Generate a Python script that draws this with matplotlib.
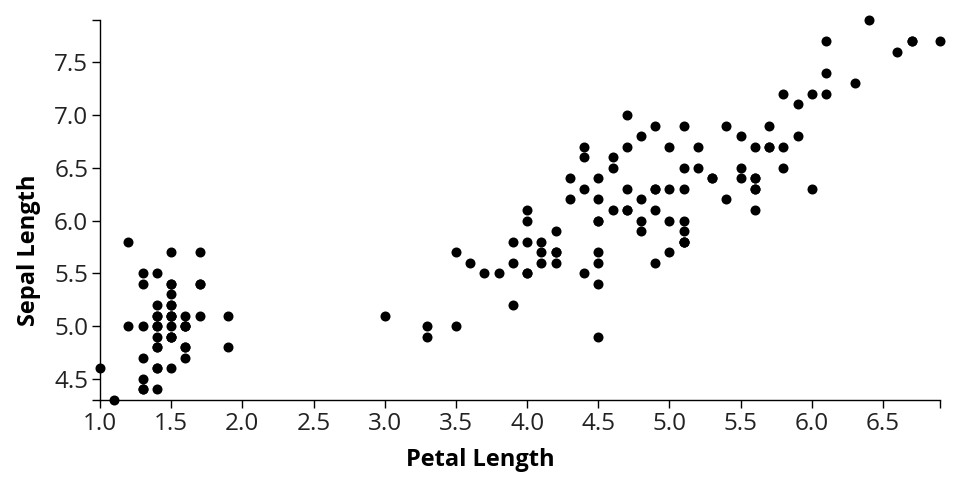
import numpy as np
import matplotlib
matplotlib.use("Agg")
import matplotlib.pyplot as plt

plt.rcParams['font.family'] = ['Open Sans', 'DejaVu Sans']

# iris: petal length (x) vs sepal length (y)
petal_length = [
    1.4, 1.4, 1.3, 1.5, 1.4, 1.7, 1.4, 1.5, 1.4, 1.5,
    1.5, 1.6, 1.4, 1.1, 1.2, 1.5, 1.3, 1.4, 1.7, 1.5,
    1.7, 1.5, 1.0, 1.7, 1.9, 1.6, 1.6, 1.5, 1.4, 1.6,
    1.6, 1.5, 1.5, 1.4, 1.5, 1.2, 1.3, 1.5, 1.3, 1.5,
    1.3, 1.3, 1.3, 1.6, 1.9, 1.4, 1.6, 1.4, 1.5, 1.4,
    4.7, 4.5, 4.9, 4.0, 4.6, 4.5, 4.7, 3.3, 4.6, 3.9,
    3.5, 4.2, 4.0, 4.7, 3.6, 4.4, 4.5, 4.1, 4.5, 3.9,
    4.8, 4.0, 4.9, 4.7, 4.3, 4.4, 4.8, 5.0, 4.5, 3.5,
    3.8, 3.7, 3.9, 5.1, 4.5, 4.5, 4.7, 4.4, 4.1, 4.0,
    4.4, 4.6, 4.0, 3.3, 4.2, 4.2, 4.2, 4.3, 3.0, 4.1,
    6.0, 5.1, 5.9, 5.6, 5.8, 6.6, 4.5, 6.3, 5.8, 6.1,
    5.1, 5.3, 5.5, 5.0, 5.1, 5.3, 5.5, 6.7, 6.9, 5.0,
    5.7, 4.9, 6.7, 4.9, 5.7, 6.0, 4.8, 4.9, 5.6, 5.8,
    6.1, 6.4, 5.6, 5.1, 5.6, 6.1, 5.6, 5.5, 4.8, 5.4,
    5.6, 5.1, 5.1, 5.9, 5.7, 5.2, 5.0, 5.2, 5.4, 5.1,
]
sepal_length = [
    5.1, 4.9, 4.7, 4.6, 5.0, 5.4, 4.6, 5.0, 4.4, 4.9,
    5.4, 4.8, 4.8, 4.3, 5.8, 5.7, 5.4, 5.1, 5.7, 5.1,
    5.4, 5.1, 4.6, 5.1, 4.8, 5.0, 5.0, 5.2, 5.2, 4.7,
    4.8, 5.4, 5.2, 5.5, 4.9, 5.0, 5.5, 4.9, 4.4, 5.1,
    5.0, 4.5, 4.4, 5.0, 5.1, 4.8, 5.1, 4.6, 5.3, 5.0,
    7.0, 6.4, 6.9, 5.5, 6.5, 5.7, 6.3, 4.9, 6.6, 5.2,
    5.0, 5.9, 6.0, 6.1, 5.6, 6.7, 5.6, 5.8, 6.2, 5.6,
    5.9, 6.1, 6.3, 6.1, 6.4, 6.6, 6.8, 6.7, 6.0, 5.7,
    5.5, 5.5, 5.8, 6.0, 5.4, 6.0, 6.7, 6.3, 5.6, 5.5,
    5.5, 6.1, 5.8, 5.0, 5.6, 5.7, 5.7, 6.2, 5.1, 5.7,
    6.3, 5.8, 7.1, 6.3, 6.5, 7.6, 4.9, 7.3, 6.7, 7.2,
    6.5, 6.4, 6.8, 5.7, 5.8, 6.4, 6.5, 7.7, 7.7, 6.0,
    6.9, 5.6, 7.7, 6.3, 6.7, 7.2, 6.2, 6.1, 6.4, 7.2,
    7.4, 7.9, 6.4, 6.3, 6.1, 7.7, 6.3, 6.4, 6.0, 6.9,
    6.7, 6.9, 5.8, 6.8, 6.7, 6.7, 6.3, 6.5, 6.2, 5.9,
]

x_ticks = [1.0, 1.5, 2.0, 2.5, 3.0, 3.5, 4.0, 4.5, 5.0, 5.5, 6.0, 6.5]
y_ticks = [4.5, 5.0, 5.5, 6.0, 6.5, 7.0, 7.5]

fig = plt.figure(figsize=(9.6, 5), dpi=100)
ax = fig.add_axes([100/960, 100/500, 840/960, 380/500])

ax.scatter(petal_length, sepal_length, s=52, color='black', linewidths=0,
           clip_on=False, zorder=3)

xmin, xmax = min(petal_length), max(petal_length)
ymin, ymax = min(sepal_length), max(sepal_length)
ax.set_xlim(xmin, xmax)
ax.set_ylim(ymin, ymax)

ax.set_xticks(x_ticks)
ax.set_xticklabels(["%.1f" % t for t in x_ticks])
ax.set_yticks(y_ticks)
ax.set_yticklabels(["%.1f" % t for t in y_ticks])
# outer ticks at the ends of the domain
ax.set_xticks([xmin, xmax], minor=True)
ax.set_yticks([ymin, ymax], minor=True)

for side in ['top', 'right']:
    ax.spines[side].set_visible(False)
for side in ['left', 'bottom']:
    ax.spines[side].set_linewidth(1.0)
    ax.spines[side].set_color('black')

ax.tick_params(which='both', direction='out', length=6, width=1.0,
               color='black', labelsize=17.5, labelcolor='#222222', pad=2.5)

# axis titles are centred on the figure, not on the axes
fig.text(0.5, 0.08, "Petal Length", fontsize=17, fontweight='bold',
         ha='center', va='center')
fig.text(0.03, 0.5, "Sepal Length", fontsize=17, fontweight='bold',
         ha='center', va='center', rotation=90)

fig.savefig("out.png", dpi=100)
